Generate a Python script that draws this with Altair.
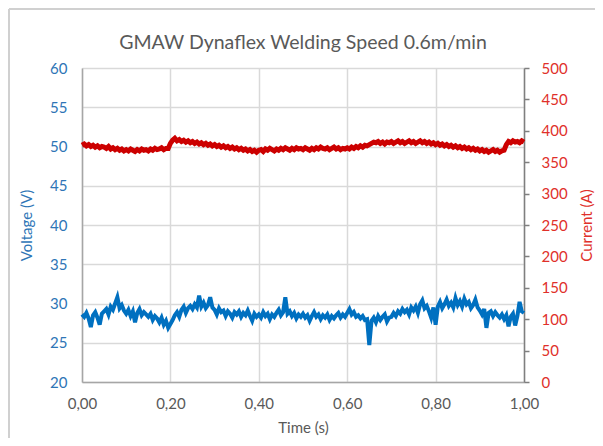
import altair as alt
import pandas as pd

voltage = [
    28.6, 28.3, 28.8, 28.1, 27.0, 28.5, 28.9, 28.2, 27.3, 28.7,
    29.0, 29.3, 28.6, 29.6, 29.2, 30.0, 30.8, 29.4, 29.8, 29.1,
    28.7, 29.2, 28.4, 29.0, 27.6, 28.8, 29.3, 28.5, 28.9, 28.6,
    28.3, 28.7, 27.9, 28.4, 28.1, 27.6, 28.2, 27.3, 27.8, 26.9,
    27.4, 27.9, 28.5, 28.9, 28.3, 29.2, 29.6, 28.8, 29.4, 29.7,
    29.3, 29.9, 29.5, 31.0, 29.6, 30.1, 29.4, 29.8, 30.8, 29.5,
    29.2, 28.6, 29.4, 28.9, 29.1, 28.4, 29.0, 28.7, 28.2, 28.9,
    28.6, 29.0, 28.3, 28.8, 28.5, 29.1, 28.4, 27.8, 28.7, 28.3,
    28.6, 28.2, 28.9, 28.4, 28.7, 28.0, 28.6, 28.3, 28.8, 29.2,
    28.5, 28.9, 30.8, 28.7, 29.0, 28.4, 28.8, 28.1, 28.6, 28.3,
    28.7, 28.2, 28.5, 27.8, 28.4, 28.9, 28.3, 28.6, 28.0, 28.5,
    28.2, 28.6, 27.9, 28.4, 28.1, 28.5, 28.8, 28.2, 28.6, 28.3,
    28.8, 29.3, 28.6, 28.9, 28.3, 28.5, 28.1, 28.4, 27.9, 28.0,
    24.7, 27.8, 28.2, 27.6, 28.4, 27.9, 28.3, 28.6, 27.7, 28.2,
    28.3, 28.8, 28.4, 29.0, 28.7, 29.3, 28.9, 29.2, 28.6, 29.5,
    29.1, 29.6, 28.8, 29.9, 30.4, 29.4, 29.7, 29.0, 28.2, 29.5,
    27.3, 29.6, 30.2, 29.4, 29.9, 30.5, 29.7, 30.1, 29.5, 30.7,
    29.8, 30.3, 29.6, 30.6, 29.9, 30.2, 29.4, 29.8, 30.5, 29.5,
    29.1, 28.6, 29.3, 26.9, 28.8, 29.0, 28.4, 28.9, 28.5, 28.2,
    28.6, 28.0, 28.5, 27.1, 28.3, 28.7, 27.2, 28.4, 30.2, 29.0,
    28.8,
]

current = [
    377, 379, 376, 378, 375, 377, 374, 376, 373, 375,
    374, 372, 375, 371, 373, 370, 372, 369, 371, 368,
    370, 368, 371, 369, 367, 370, 368, 371, 369, 370,
    368, 371, 369, 372, 370, 371, 373, 370, 372, 372,
    380, 385, 388, 384, 386, 383, 385, 382, 384, 381,
    383, 380, 382, 379, 381, 378, 380, 377, 379, 376,
    378, 375, 377, 374, 376, 373, 375, 372, 374, 371,
    373, 370, 372, 369, 371, 368, 370, 367, 369, 366,
    369, 370, 367, 371, 369, 372, 370, 368, 371, 369,
    372, 370, 373, 371, 369, 372, 370, 373, 371, 372,
    370, 373, 371, 369, 372, 370, 373, 371, 374, 372,
    371, 373, 370, 372, 374, 371, 373, 370, 372, 371,
    373, 371, 374, 372, 375, 373, 376, 374, 377, 376,
    378, 380, 382, 381, 383, 380, 382, 379, 382, 381,
    383, 380, 382, 384, 381, 383, 380, 382, 384, 381,
    383, 380, 382, 384, 381, 383, 380, 382, 379, 381,
    378, 380, 377, 379, 376, 378, 375, 377, 374, 376,
    373, 375, 372, 374, 371, 373, 370, 372, 369, 371,
    368, 370, 367, 369, 366, 368, 370, 367, 369, 366,
    368, 369, 378, 383, 381, 384, 382, 383, 381, 384,
    382,
]

time = [round(i * 0.005, 3) for i in range(len(voltage))]

TITLE = "GMAW  Dynaflex Welding Speed 0.6m/min"

df = pd.DataFrame({"t": time, "V": voltage, "A": current})
one = pd.DataFrame({"k": [0]})

FONT = "Lato"
GRAY = "#595959"
BLUE_LBL = "#2E75B6"
RED_LBL = "#E0302A"

x_enc = alt.X(
    "t:Q",
    scale=alt.Scale(domain=[0, 1], nice=False),
    axis=alt.Axis(
        values=[0, 0.2, 0.4, 0.6, 0.8, 1.0],
        labelExpr="replace(format(datum.value, '.2f'), '.', ',')",
        title="Time (s)",
        titleColor=GRAY, titleFont=FONT, titleFontSize=15, titleFontWeight="normal",
        titleY=45, titleBaseline="middle",
        labelColor=GRAY, labelFont=FONT, labelFontSize=15, labelPadding=14,
        labelFlush=False, labelOverlap=False,
        ticks=False, grid=True, gridColor="#d9d9d9", gridWidth=1.5,
        domainColor="#a6a6a6", domainWidth=1.5,
    ),
)

volt = alt.Chart(df).mark_line(color="#0070C0", strokeWidth=4).encode(
    x=x_enc,
    y=alt.Y(
        "V:Q",
        scale=alt.Scale(domain=[20, 60], nice=False),
        axis=alt.Axis(
            values=[20, 25, 30, 35, 40, 45, 50, 55, 60],
            title="Voltage (V)",
            titleColor=BLUE_LBL, titleFont=FONT, titleFontSize=15, titleFontWeight="normal",
            titleX=-56, titleY=157, titleAngle=270, titleBaseline="middle", titleAlign="center",
            labelColor=BLUE_LBL, labelFont=FONT, labelFontSize=15, labelPadding=15,
            ticks=False, grid=True, gridColor="#d9d9d9", gridWidth=1.5,
            domainColor="#a6a6a6", domainWidth=1.5,
        ),
    ),
)

curr = alt.Chart(df).mark_line(color="#CC0000", strokeWidth=5).encode(
    x=x_enc,
    y=alt.Y(
        "A:Q",
        scale=alt.Scale(domain=[0, 500], nice=False),
        axis=alt.Axis(
            orient="right",
            values=[0, 50, 100, 150, 200, 250, 300, 350, 400, 450, 500],
            title="Current (A)",
            titleColor=RED_LBL, titleFont=FONT, titleFontSize=15, titleFontWeight="normal",
            titleX=62, titleY=157, titleAngle=270, titleBaseline="middle", titleAlign="center",
            labelColor=RED_LBL, labelFont=FONT, labelFontSize=15, labelPadding=12,
            ticks=True, tickSize=5, tickColor="#7f7f7f", tickWidth=1.5,
            grid=False, domainColor="#7f7f7f", domainWidth=1.5,
        ),
    ),
)

title_mark = alt.Chart(one).mark_text(
    font=FONT, fontSize=19.5, color=GRAY, align="center", baseline="middle"
).encode(x=alt.value(221), y=alt.value(-25), text=alt.value(TITLE))

frame_left = alt.Chart(one).mark_rule(color="#d0d0d0", strokeWidth=2).encode(
    x=alt.value(-73), y=alt.value(-59), y2=alt.value(420)
)
frame_top = alt.Chart(one).mark_rule(color="#d0d0d0", strokeWidth=2).encode(
    x=alt.value(-73), x2=alt.value(640), y=alt.value(-59)
)

chart = (
    alt.layer(frame_left, frame_top, volt, curr, title_mark)
    .resolve_scale(y="independent")
    .properties(
        width=442,
        height=314,
        autosize=alt.AutoSizeParams(type="none"),
        padding={"left": 74, "top": 60, "right": 71, "bottom": 56},
    )
    .configure_view(stroke=None)
)

chart.save("out.html", embed_options={"renderer": "svg", "actions": False})
